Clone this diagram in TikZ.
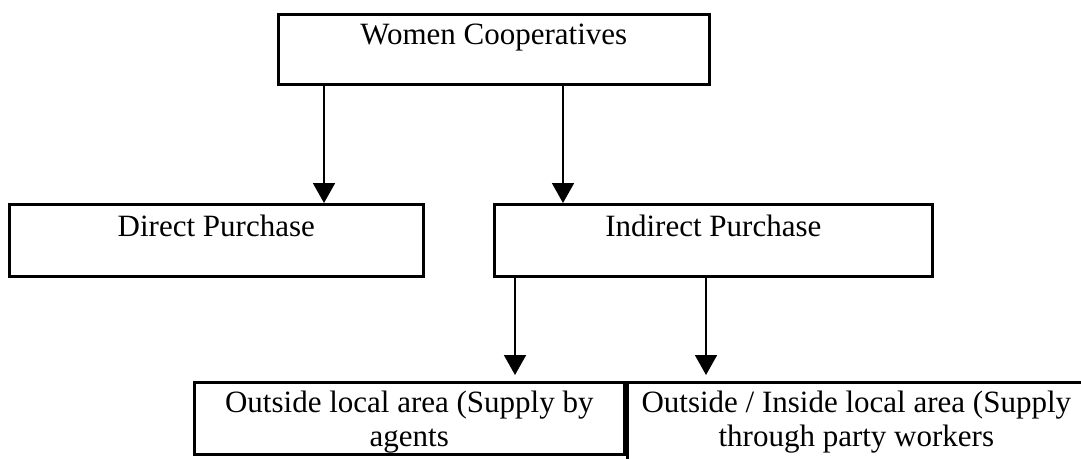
\documentclass[tikz,border=0pt]{standalone}
\usepackage{fontspec}
\setmainfont{Liberation Serif}
\usetikzlibrary{arrows.meta}

\begin{document}
\begin{tikzpicture}[x=1pt, y=-1pt,
  cell/.style={draw, line width=2.6pt, inner xsep=0pt, inner ysep=0pt,
    anchor=north west, align=center,
    font=\fontsize{31}{34}\selectfont},
  link/.style={line width=1.8pt,
    -{Triangle[width=22pt, length=20pt]}}]
  \useasboundingbox (0,0) rectangle (1081,458);
  \clip (0,0) rectangle (1081,458);

  % top level
  \node[cell, minimum width=431pt, text height=30pt, text depth=40pt]
    (coop) at (277,13) {Women Cooperatives};

  % purchase channels
  \node[cell, minimum width=414pt, text height=32pt, text depth=40pt]
    (direct) at (8,203) {Direct Purchase};
  \node[cell, minimum width=438pt, text height=32pt, text depth=40pt]
    (indirect) at (493,203) {Indirect Purchase};

  % supply routes of indirect purchase (baseline of a two-line node is its last line)
  \node[cell, minimum width=430pt, text height=64pt, text depth=8pt]
    (agents) at (193,381) {Outside local area (Supply by\\agents};
  \node[cell, minimum width=458pt, text height=64pt, text depth=60pt]
    (party) at (626,381) {Outside / Inside local area (Supply\\through party workers};

  % connectors
  \coordinate (c1) at ([xshift=47pt]coop.south west);
  \coordinate (c2) at ([xshift=286pt]coop.south west);
  \coordinate (i1) at ([xshift=22pt]indirect.south west);
  \coordinate (i2) at ([xshift=213pt]indirect.south west);

  \draw[link] (c1) -- (c1 |- direct.north);
  \draw[link] (c2) -- (c2 |- indirect.north);
  \draw[link, shorten >=6pt] (i1) -- (i1 |- agents.north);
  \draw[link, shorten >=6pt] (i2) -- (i2 |- party.north);
\end{tikzpicture}
\end{document}
